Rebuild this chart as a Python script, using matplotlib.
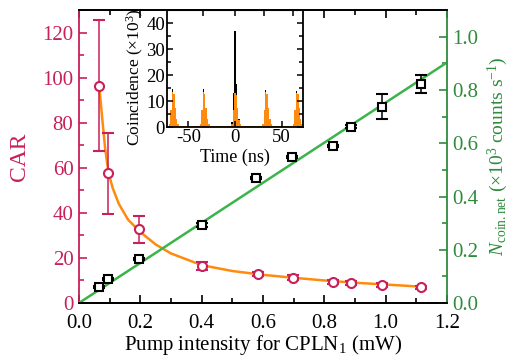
import numpy as np
import matplotlib.pyplot as plt
from matplotlib.ticker import MultipleLocator

plt.rcParams['font.family'] = ['Liberation Serif', 'DejaVu Serif']
plt.rcParams['mathtext.fontset'] = 'custom'
plt.rcParams['mathtext.rm'] = 'Liberation Serif'
plt.rcParams['mathtext.it'] = 'Liberation Serif:italic'
plt.rcParams['axes.unicode_minus'] = False

crimson = '#C8205A'
dgreen = '#2E8B3C'
lgreen = '#3BB44A'
orange = '#FF8A10'

# CAR data (left axis)
car_x = [0.066, 0.096, 0.197, 0.40, 0.585, 0.697, 0.829, 0.889, 0.99, 1.117]
car_y = [96.4, 57.6, 32.7, 16.6, 12.9, 11.3, 9.2, 9.0, 7.9, 7.0]
car_err = [29, 18, 6, 1.8, 1.0, 1.0, 0.8, 0.8, 0.8, 0.6]

# fit curve
fit_x = [0.066, 0.075, 0.085, 0.096, 0.11, 0.13, 0.16, 0.2, 0.25, 0.3, 0.4,
         0.5, 0.6, 0.7, 0.8, 0.9, 1.0, 1.12]
fit_y = [96.4, 83, 69, 58, 51, 44, 37, 31.5, 26, 22, 16.8,
         14.2, 12.5, 11.2, 10.0, 9.0, 8.2, 7.2]

# net coincidence counts (right axis)
cnt_x = [0.066, 0.096, 0.197, 0.40, 0.579, 0.695, 0.829, 0.889, 0.989, 1.117]
cnt_y = [0.061, 0.089, 0.165, 0.293, 0.47, 0.55, 0.59, 0.662, 0.738, 0.823]
cnt_err = [0.004, 0.004, 0.005, 0.008, 0.004, 0.004, 0.005, 0.006, 0.048, 0.035]

lin_x = [0.0, 1.2]
lin_y = [0.0, 0.903]

# inset histogram
peak_t = [-67, -34, 0, 33, 66]
black_h = [14.5, 14.5, 37, 14.2, 14.0]
orange_h = [13.5, 13.5, 13.0, 13.5, 13.3]
bin_off = [-3.0, -1.5, 0.0, 1.5, 3.0, 4.5, 6.0]
orange_shape = [0.08, 0.5, 1.0, 0.95, 0.55, 0.22, 0.08]
black_shape = [0.05, 0.35, 1.0, 0.45, 0.2, 0.08, 0.03]
floor_level = 0.6

fig = plt.figure(figsize=(5.13, 3.62), dpi=100)
ax = fig.add_axes([0.154, 0.163, 0.717, 0.809])
ax2 = ax.twinx()

ax.plot(fit_x, fit_y, color=orange, lw=1.8, zorder=2)
ax.errorbar(car_x, car_y, yerr=car_err, fmt='o', ms=6.5, mfc='white', mec=crimson,
            mew=1.5, ecolor=crimson, elinewidth=1.1, capsize=4, capthick=1.1, zorder=3)

ax2.plot(lin_x, lin_y, color=lgreen, lw=1.8, zorder=2)
ax2.errorbar(cnt_x, cnt_y, yerr=cnt_err, fmt='s', ms=6, mfc='white', mec='black',
             mew=1.5, ecolor='black', elinewidth=1.1, capsize=4, capthick=1.1, zorder=3)

ax.set_xlim(0, 1.2)
ax.set_ylim(0, 130)
ax2.set_ylim(0, 1.1)

ax.xaxis.set_major_locator(MultipleLocator(0.2))
ax.xaxis.set_minor_locator(MultipleLocator(0.1))
ax.yaxis.set_major_locator(MultipleLocator(20))
ax.yaxis.set_minor_locator(MultipleLocator(10))
ax2.yaxis.set_major_locator(MultipleLocator(0.2))
ax2.yaxis.set_minor_locator(MultipleLocator(0.1))
ax.xaxis.set_major_formatter(plt.FuncFormatter(lambda v, p: f'{v:.1f}'))
ax2.yaxis.set_major_formatter(plt.FuncFormatter(lambda v, p: f'{v:.1f}'))

ax.tick_params(axis='x', which='both', direction='in', top=True, labelsize=15, pad=8, width=1.2)
ax.tick_params(axis='x', which='major', length=6)
ax.tick_params(axis='x', which='minor', length=3.5)
ax.tick_params(axis='y', which='both', direction='in', colors=crimson, labelsize=15, pad=4, width=1.2)
ax.tick_params(axis='y', which='major', length=6)
ax.tick_params(axis='y', which='minor', length=3.5)
ax2.tick_params(axis='y', which='both', direction='in', colors=dgreen, labelsize=15, pad=4, width=1.2)
ax2.tick_params(axis='y', which='major', length=6)
ax2.tick_params(axis='y', which='minor', length=3.5)

for a in (ax, ax2):
    for s in a.spines.values():
        s.set_linewidth(1.3)
ax.spines['left'].set_color(crimson)
ax2.spines['left'].set_visible(False)
ax.spines['right'].set_visible(False)
ax2.spines['right'].set_color(dgreen)

ax.set_xlabel('Pump intensity for CPLN$_1$ (mW)', fontsize=15, labelpad=0)
ax.set_ylabel('CAR', color=crimson, fontsize=17, labelpad=9)
ax2.set_ylabel(r'$N_{\rm coin.net}$ ($\times$10$^3$ counts s$^{-1}$)', color=dgreen,
               fontsize=14, labelpad=5)

# inset
axi = fig.add_axes([0.3255, 0.649, 0.265, 0.323])
axi.fill_between([-73, 73], 0, floor_level, color=orange, lw=0)
for t, bh in zip(peak_t, black_h):
    axi.bar([t + o for o in bin_off], [bh * s for s in black_shape], width=1.5,
            color='black', lw=0)
for t, oh in zip(peak_t, orange_h):
    axi.bar([t + o for o in bin_off], [oh * s for s in orange_shape], width=1.5,
            color=orange, lw=0)
axi.set_xlim(-73, 73)
axi.set_ylim(0, 45)
axi.xaxis.set_major_locator(MultipleLocator(50))
axi.yaxis.set_major_locator(MultipleLocator(10))
axi.yaxis.set_minor_locator(MultipleLocator(5))
axi.tick_params(which='both', direction='in', right=True, labelsize=13.5, pad=1.5, width=1.1)
axi.tick_params(which='major', length=4)
axi.tick_params(which='minor', length=3)
for s in axi.spines.values():
    s.set_linewidth(1.3)
top = axi.secondary_xaxis('top')
top.set_xticks([-34, 0, 31, 62])
top.tick_params(direction='in', length=4, width=1.1, labeltop=False)
axi.set_xlabel('Time (ns)', fontsize=13, labelpad=1.5)
axi.set_ylabel(r'Coincidence ($\times$10$^3$)', fontsize=12.5)
axi.yaxis.set_label_coords(-0.155, 0.43)

fig.savefig('out.png', dpi=100)
